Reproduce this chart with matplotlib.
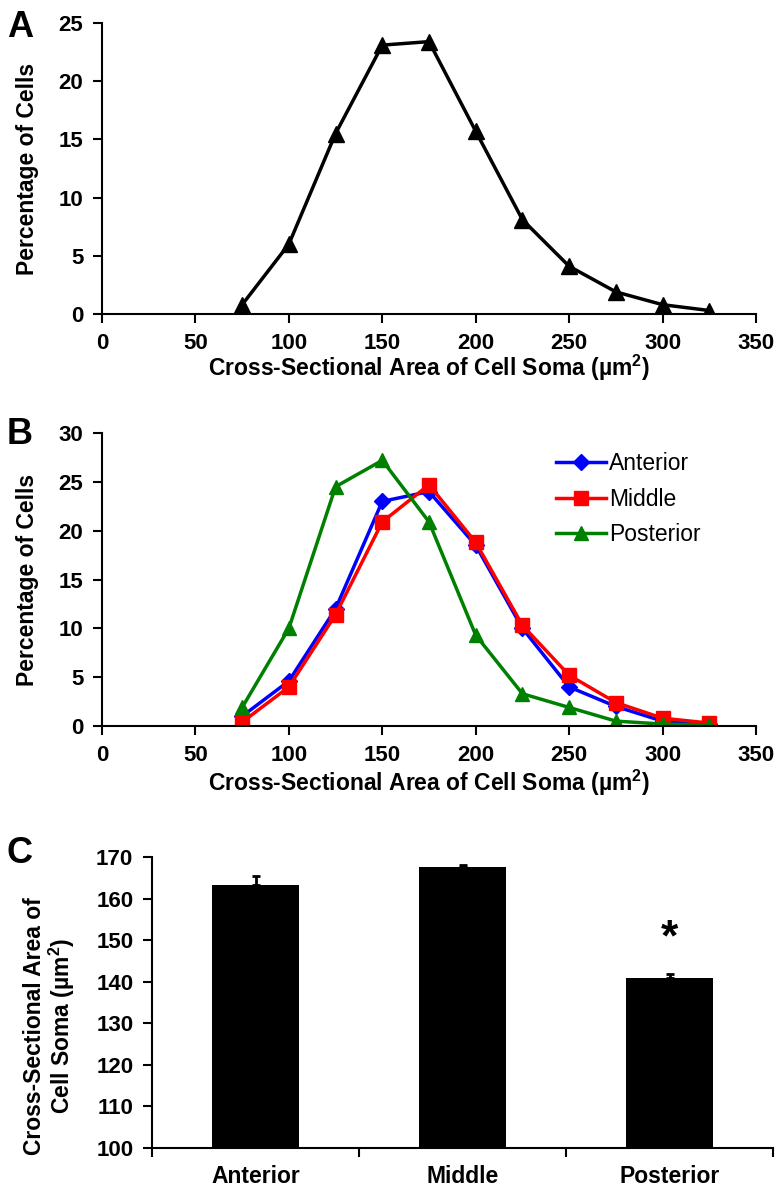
import matplotlib
matplotlib.use("Agg")
import matplotlib.pyplot as plt

# soma area bins (um^2)
bins = [75, 100, 125, 150, 175, 200, 225, 250, 275, 300, 325]

# panel A: all cells
all_cells = [0.8, 6.0, 15.5, 23.1, 23.4, 15.7, 8.1, 4.1, 1.9, 0.8, 0.3]

# panel B: by region
anterior = [1.0, 4.6, 12.0, 23.0, 24.0, 18.5, 10.0, 4.0, 2.0, 0.5, 0.2]
middle = [0.4, 4.0, 11.4, 20.9, 24.7, 18.8, 10.3, 5.2, 2.4, 0.8, 0.3]
posterior = [1.9, 10.0, 24.5, 27.2, 20.9, 9.3, 3.3, 1.9, 0.5, 0.2, 0.1]

# panel C: mean area with error
regions = ["Anterior", "Middle", "Posterior"]
means = [163.3, 167.6, 141.0]
errors = [2.2, 0.4, 0.9]

plt.rcParams['font.family'] = ['Liberation Sans', 'DejaVu Sans']

xlab = "Cross-Sectional Area of Cell Soma (\u00b5m$^\\mathregular{2}$)"

fig = plt.figure(figsize=(7.82, 11.91), dpi=100)
W, H = 782, 1191


def box(l, t, r, b):
    return [l / W, 1 - b / H, (r - l) / W, (b - t) / H]


def style(ax):
    for s in ['top', 'right']:
        ax.spines[s].set_visible(False)
    for s in ['left', 'bottom']:
        ax.spines[s].set_linewidth(1.5)
    ax.tick_params(width=1.5, length=6.5, labelsize=16, pad=7)
    for lb in ax.get_xticklabels() + ax.get_yticklabels():
        lb.set_fontweight('bold')


# panel A
ax1 = fig.add_axes(box(102, 23, 756, 314))
ax1.plot(bins, all_cells, color='black', lw=2.5, marker='^', ms=11)
ax1.set_xlim(0, 350)
ax1.set_ylim(0, 25)
ax1.set_xticks(range(0, 351, 50))
ax1.set_yticks(range(0, 26, 5))
style(ax1)
ax1.set_xlabel(xlab, fontsize=16.5, fontweight='bold', va='center')
ax1.xaxis.set_label_coords(0.5, (314 - 368) / 291)
ax1.set_ylabel("Percentage of Cells", fontsize=16.5, fontweight='bold', va='center')
ax1.yaxis.set_label_coords((28 - 102) / 654, 0.5)

# panel B
ax2 = fig.add_axes(box(102, 433, 756, 726))
ax2.plot(bins, anterior, color='#0000ff', lw=2.5, marker='D', ms=8, label='Anterior')
ax2.plot(bins, middle, color='#ff0000', lw=2.5, marker='s', ms=10, label='Middle')
ax2.plot(bins, posterior, color='#008000', lw=2.5, marker='^', ms=10, label='Posterior')
ax2.set_xlim(0, 350)
ax2.set_ylim(0, 30)
ax2.set_xticks(range(0, 351, 50))
ax2.set_yticks(range(0, 31, 5))
style(ax2)
ax2.set_xlabel(xlab, fontsize=16.5, fontweight='bold', va='center')
ax2.xaxis.set_label_coords(0.5, (726 - 783) / 293)
ax2.set_ylabel("Percentage of Cells", fontsize=16.5, fontweight='bold', va='center')
ax2.yaxis.set_label_coords((28 - 102) / 654, 0.5)
ax2.legend(loc='upper left', bbox_to_anchor=((556 - 102) / 654, (726 - 452) / 293),
           frameon=False, fontsize=16.5, handlelength=2.2, handletextpad=0.1,
           labelspacing=0.55, borderaxespad=0, borderpad=0)

# panel C
ax3 = fig.add_axes(box(152, 857, 773, 1148))
pos = range(len(regions))
ax3.bar(pos, [m - 100 for m in means], bottom=100, width=0.42, color='black')
ax3.errorbar(pos, means, yerr=[[0, 0, 0], errors], fmt='none', ecolor='black',
             elinewidth=2, capsize=3, capthick=2)
ax3.set_xlim(-0.5, 2.5)
ax3.set_ylim(100, 170)
ax3.set_yticks(range(100, 171, 10))
ax3.set_xticks([-0.5, 0.5, 1.5, 2.5])
ax3.set_xticklabels([])
ax3.set_xticks(list(pos), minor=True)
ax3.set_xticklabels(regions, minor=True)
style(ax3)
ax3.tick_params(axis='x', which='minor', length=0, pad=12)
for lb in ax3.get_xticklabels(minor=True):
    lb.set_fontweight('bold')
    lb.set_fontsize(16.5)
ax3.set_ylabel("Cross-Sectional Area of\nCell Soma (\u00b5m$^\\mathregular{2}$)",
               fontsize=16.5, fontweight='bold', va='center', linespacing=1.0)
ax3.yaxis.set_label_coords((50 - 152) / 621, (1148 - 1026) / 291)
ax3.text(2, means[2] + errors[2] + 3.5, "*", ha='center', va='bottom',
         fontsize=32, fontweight='bold')

# panel letters
fig.text(7 / W, 1 - 37 / H, "A", fontsize=26, fontweight='bold')
fig.text(7 / W, 1 - 444 / H, "B", fontsize=26, fontweight='bold')
fig.text(7 / W, 1 - 863 / H, "C", fontsize=26, fontweight='bold')

fig.savefig("out.png", dpi=100)
